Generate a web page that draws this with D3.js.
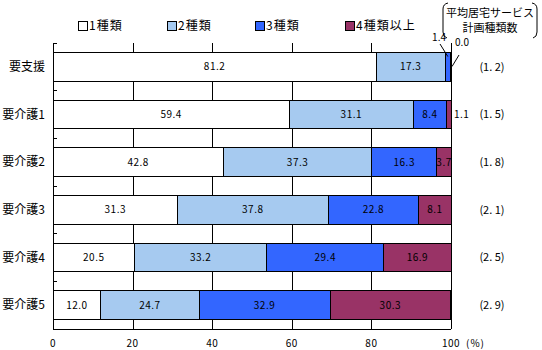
<!DOCTYPE html>
<html>
<head>
<meta charset="utf-8">
<script src="https://cdn.jsdelivr.net/npm/d3@7"></script>
<style>
  body { margin: 0; background: #fff; }
  svg text { font-family: "Noto Sans CJK JP", "DejaVu Sans", sans-serif; fill: #000; }
</style>
</head>
<body>
<div id="chart"></div>
<script>
// data
var categories = ['要支援', '要介護1', '要介護2', '要介護3', '要介護4', '要介護5'];
var seriesNames = ['1種類', '2種類', '3種類', '4種類以上'];
var one   = [81.2, 59.4, 42.8, 31.3, 20.5, 12.0];
var two   = [17.3, 31.1, 37.3, 37.8, 33.2, 24.7];
var three = [1.4, 8.4, 16.3, 22.8, 29.4, 32.9];
var four  = [0.0, 1.1, 3.7, 8.1, 16.9, 30.3];
var averages = ['1. 2', '1. 5', '1. 8', '2. 1', '2. 5', '2. 9'];
var xTicks = [0, 20, 40, 60, 80, 100];

var colors = ['#ffffff', '#a6caf0', '#3366ff', '#993366'];

var width = 542, height = 350;
var margin = { top: 43, left: 53, right: 91, bottom: 21 };

var svg = d3.select('#chart').append('svg')
    .attr('width', width)
    .attr('height', height);

var x = d3.scaleLinear().domain([0, 100]).range([margin.left, width - margin.right]);
var y = d3.scaleBand().domain(categories)
    .range([margin.top, height - margin.bottom])
    .paddingInner(0.4).paddingOuter(0.2);

var rows = categories.map(function (c, i) {
    return { cat: c, vals: [one[i], two[i], three[i], four[i]] };
});
var stack = d3.stack().keys([0, 1, 2, 3]).value(function (d, k) { return d.vals[k]; });
var layers = stack(rows);

// gridlines
svg.append('g')
    .attr('transform', 'translate(0,' + (height - margin.bottom) + ')')
    .call(d3.axisBottom(x).tickValues([20, 40, 60, 80, 100])
        .tickSize(-(height - margin.bottom - margin.top)).tickFormat(''))
    .call(function (g) {
        g.select('.domain').remove();
        g.selectAll('line').attr('stroke', '#000').attr('shape-rendering', 'crispEdges');
    });

// bars
layers.forEach(function (layer, k) {
    svg.append('g').selectAll('rect')
        .data(layer)
        .enter().append('rect')
        .attr('x', function (d) { return x(d[0]); })
        .attr('y', function (d) { return y(d.data.cat); })
        .attr('width', function (d) { return x(d[1]) - x(d[0]); })
        .attr('height', y.bandwidth())
        .attr('fill', colors[k])
        .attr('stroke', '#000')
        .attr('stroke-width', 1)
        .attr('shape-rendering', 'crispEdges');
});

// axes lines
var yAxis = svg.append('g').attr('shape-rendering', 'crispEdges');
yAxis.append('line')
    .attr('x1', x(0)).attr('x2', x(0))
    .attr('y1', margin.top).attr('y2', height - margin.bottom)
    .attr('stroke', '#000');
yAxis.append('line')
    .attr('x1', x(0)).attr('x2', x(100))
    .attr('y1', height - margin.bottom).attr('y2', height - margin.bottom)
    .attr('stroke', '#000');
// category boundary ticks
yAxis.selectAll('line.tk')
    .data(categories)
    .enter().append('line')
    .attr('class', 'tk')
    .attr('x1', x(0)).attr('x2', x(0) + 4)
    .attr('y1', function (d) { return y(d) - y.step() * 0.2; })
    .attr('y2', function (d) { return y(d) - y.step() * 0.2; })
    .attr('stroke', '#000');

// category labels
svg.append('g').selectAll('text')
    .data(categories)
    .enter().append('text')
    .attr('x', x(0) - 8)
    .attr('y', function (d) { return y(d) + y.bandwidth() / 2; })
    .attr('dy', '0.35em')
    .attr('text-anchor', 'end')
    .style('font-size', '12px')
    .text(function (d) { return d; });

// x tick labels
svg.append('g').selectAll('text')
    .data(xTicks)
    .enter().append('text')
    .attr('x', function (d) { return x(d); })
    .attr('y', height - margin.bottom + 18)
    .attr('text-anchor', 'middle')
    .style('font-size', '10px')
    .style('letter-spacing', '0.5px')
    .text(function (d) { return d; });
svg.append('text')
    .attr('x', x(100) + 15)
    .attr('y', height - margin.bottom + 18)
    .style('font-size', '10px')
    .style('letter-spacing', '1px')
    .text('(%)');

// value labels
layers.forEach(function (layer, k) {
    svg.append('g').selectAll('text')
        .data(layer.filter(function (d) { return d[1] - d[0] >= 3; }))
        .enter().append('text')
        .attr('x', function (d) { return x((d[0] + d[1]) / 2); })
        .attr('y', function (d) { return y(d.data.cat) + y.bandwidth() / 2; })
        .attr('dy', '0.35em')
        .attr('text-anchor', 'middle')
        .style('font-size', '10px')
        .style('letter-spacing', '0.5px')
        .text(function (d) { return d.data.vals[k].toFixed(1); });
});

// small values placed outside
var c0 = categories[0], c1 = categories[1];
svg.append('text').attr('x', x(one[0] + two[0]) - 6).attr('y', margin.top - 2)
    .attr('text-anchor', 'middle').style('font-size', '10px').text(three[0].toFixed(1));
svg.append('line')
    .attr('x1', x(one[0] + two[0]) - 5).attr('y1', margin.top + 1)
    .attr('x2', x(one[0] + two[0] + three[0] / 2)).attr('y2', y(c0) + 4)
    .attr('stroke', '#000');
svg.append('text').attr('x', x(100) + 11).attr('y', margin.top + 3)
    .attr('text-anchor', 'middle').style('font-size', '10px').text(four[0].toFixed(1));
svg.append('line')
    .attr('x1', x(100) + 8).attr('y1', margin.top + 12)
    .attr('x2', x(100) + 1).attr('y2', y(c0) + 14)
    .attr('stroke', '#000');
svg.append('text').attr('x', x(100) + 3)
    .attr('y', y(c1) + y.bandwidth() / 2).attr('dy', '0.35em')
    .style('font-size', '10px').style('letter-spacing', '0.5px').text(four[1].toFixed(1));

// averages
svg.append('g').selectAll('text')
    .data(averages)
    .enter().append('text')
    .attr('x', 492)
    .attr('y', function (d, i) { return y(categories[i]) + y.bandwidth() / 2; })
    .attr('dy', '0.35em')
    .attr('text-anchor', 'middle')
    .style('font-size', '11px')
    .text(function (d) { return '(' + d + ')'; });

// annotation header
svg.append('text').attr('x', 490).attr('y', 17).attr('text-anchor', 'middle')
    .style('font-size', '11px').text('平均居宅サービス');
svg.append('text').attr('x', 490).attr('y', 32).attr('text-anchor', 'middle')
    .style('font-size', '11px').text('計画種類数');
svg.append('path').attr('d', 'M448,3 Q443,4 443,9 L443,32 Q443,37 447,38')
    .attr('fill', 'none').attr('stroke', '#000');
svg.append('path').attr('d', 'M532,3 Q537,4 537,9 L537,32 Q537,37 533,38')
    .attr('fill', 'none').attr('stroke', '#000');

// legend
var legendX = [78, 167, 255, 345];
var legend = svg.append('g').selectAll('g')
    .data(seriesNames)
    .enter().append('g')
    .attr('transform', function (d, i) { return 'translate(' + legendX[i] + ',21)'; });
legend.append('rect')
    .attr('width', 9).attr('height', 9)
    .attr('fill', function (d, i) { return colors[i]; })
    .attr('stroke', '#000')
    .attr('shape-rendering', 'crispEdges');
legend.append('text')
    .attr('x', 11).attr('y', 5).attr('dy', '0.35em')
    .style('font-size', '12px')
    .style('letter-spacing', '1px')
    .text(function (d) { return d; });
</script>
</body>
</html>
